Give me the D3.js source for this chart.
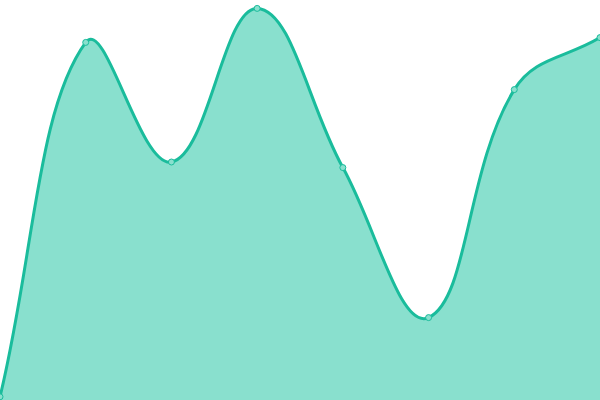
<!DOCTYPE html>
<html>
<head>
<meta charset="utf-8">
<script src="https://cdn.jsdelivr.net/npm/d3@7"></script>
<style>
  body { margin: 0; background: #fff; }
  svg { display: block; }
</style>
</head>
<body>
<div id="chart-area"></div>
<script>
const FIGURE = { WIDTH: 600, HEIGHT: 400 };

// data
const steps = [0, 1, 2, 3, 4, 5, 6, 7];
const values = [0.8, 89.4, 59.5, 97.9, 58.1, 20.6, 77.6, 90.6];

const LINE_COLOR = '#1abc9c';
const FILL_COLOR = '#89e0ce';
const TENSION = 0.4;

// spline with distance-weighted control points (tension 0.4)
function SplineCurve(context) {
    this._context = context;
}
SplineCurve.prototype = {
    areaStart: function() { this._line = 0; },
    areaEnd: function() { this._line = NaN; },
    lineStart: function() { this._pts = []; },
    point: function(x, y) { this._pts.push([+x, +y]); },
    lineEnd: function() {
        const p = this._pts, n = p.length, ctx = this._context;
        if (n) {
            if (this._line) ctx.lineTo(p[0][0], p[0][1]);
            else ctx.moveTo(p[0][0], p[0][1]);
            // control points around every point
            const cp = p.map((cur, i) => {
                const prev = p[Math.max(i - 1, 0)], next = p[Math.min(i + 1, n - 1)];
                const d01 = Math.hypot(cur[0] - prev[0], cur[1] - prev[1]);
                const d12 = Math.hypot(next[0] - cur[0], next[1] - cur[1]);
                let s01 = d01 / (d01 + d12), s12 = d12 / (d01 + d12);
                if (isNaN(s01)) s01 = 0;
                if (isNaN(s12)) s12 = 0;
                const fa = TENSION * s01, fb = TENSION * s12;
                const clampX = v => Math.max(0, Math.min(FIGURE.WIDTH, v));
                const clampY = v => Math.max(0, Math.min(FIGURE.HEIGHT, v));
                return {
                    px: clampX(cur[0] - fa * (next[0] - prev[0])),
                    py: clampY(cur[1] - fa * (next[1] - prev[1])),
                    nx: clampX(cur[0] + fb * (next[0] - prev[0])),
                    ny: clampY(cur[1] + fb * (next[1] - prev[1]))
                };
            });
            for (let i = 1; i < n; i++) {
                ctx.bezierCurveTo(cp[i - 1].nx, cp[i - 1].ny, cp[i].px, cp[i].py, p[i][0], p[i][1]);
            }
        }
        if (this._line || (this._line !== 0 && n === 1)) ctx.closePath();
        this._line = 1 - this._line;
    }
};
const curveSpline = context => new SplineCurve(context);

let x = d3.scaleLinear()
    .domain(d3.extent(steps))
    .range([0, FIGURE.WIDTH]);

let y = d3.scaleLinear()
    .domain([0, 100])
    .range([FIGURE.HEIGHT, 0]);

const points = steps.map((s, i) => ({ step: s, value: values[i] }));

let svg = d3.select('#chart-area')
    .append('svg')
        .attr('width', FIGURE.WIDTH)
        .attr('height', FIGURE.HEIGHT);

let area = d3.area()
    .x(d => x(d.step))
    .y0(y(0))
    .y1(d => y(d.value))
    .curve(curveSpline);

let line = d3.line()
    .x(d => x(d.step))
    .y(d => y(d.value))
    .curve(curveSpline);

svg.append('path')
    .datum(points)
    .attr('d', area)
    .attr('fill', FILL_COLOR);

svg.append('path')
    .datum(points)
    .attr('d', line)
    .attr('fill', 'none')
    .attr('stroke', LINE_COLOR)
    .attr('stroke-width', 3);

// point markers
svg.selectAll('circle')
    .data(points)
    .enter()
    .append('circle')
        .attr('cx', d => x(d.step))
        .attr('cy', d => y(d.value))
        .attr('r', 3)
        .attr('fill', FILL_COLOR)
        .attr('stroke', LINE_COLOR)
        .attr('stroke-width', 1);
</script>
</body>
</html>
